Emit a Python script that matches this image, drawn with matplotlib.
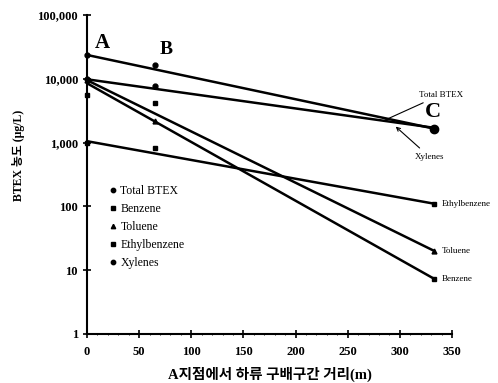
import matplotlib
matplotlib.use('Agg')
import matplotlib.pyplot as plt
from matplotlib.ticker import FixedLocator, FuncFormatter, MultipleLocator

plt.rcParams['font.family'] = ['Liberation Serif', 'Noto Sans CJK KR']

# 측정 지점 (A, B, C) 거리 (m)
x_pts = [0, 65, 333]
total_pts = [23600, 16500, 1650]
benzene_pts = [5600, 4200, 7.3]
toluene_pts = [9500, 2200, 20]
ethyl_pts = [1000, 830, 110]
xylene_pts = [9800, 7700, 1700]

# 회귀선 양 끝 값 (A, C)
x_line = [0, 333]
total_line = [23600, 1650]
benzene_line = [8500, 7.3]
toluene_line = [9500, 20]
ethyl_line = [1050, 110]
xylene_line = [9800, 1700]

y_ticks = [1, 10, 100, 1000, 10000, 100000]
x_ticks = [0, 50, 100, 150, 200, 250, 300, 350]

fig = plt.figure(figsize=(4.98, 3.83), dpi=100)
ax = fig.add_axes([0.1747, 0.128, 0.733, 0.833])

for yl in [total_line, benzene_line, toluene_line, ethyl_line, xylene_line]:
    ax.plot(x_line, yl, color='black', lw=1.8, solid_capstyle='round', clip_on=False)

ax.plot(x_pts, total_pts, 'o', color='black', ms=3.5, ls='none', label='Total BTEX', clip_on=False)
ax.plot(x_pts, benzene_pts, 's', color='black', ms=3.5, ls='none', label='Benzene', clip_on=False)
ax.plot(x_pts, toluene_pts, '^', color='black', ms=3.5, ls='none', label='Toluene', clip_on=False)
ax.plot(x_pts, ethyl_pts, 's', color='black', ms=3.5, ls='none', label='Ethylbenzene', clip_on=False)
ax.plot(x_pts, xylene_pts, 'o', color='black', ms=3.5, ls='none', label='Xylenes', clip_on=False)
ax.plot([x_pts[-1]], [total_pts[-1]], 'o', color='black', ms=6, clip_on=False)

ax.set_yscale('log')
ax.set_ylim(1, 100000)
ax.set_xlim(0, 350)
ax.yaxis.set_major_locator(FixedLocator(y_ticks))
ax.yaxis.set_minor_locator(FixedLocator([]))
ax.yaxis.set_major_formatter(FuncFormatter(lambda v, p: f'{int(round(v)):,}'))
ax.xaxis.set_major_locator(FixedLocator(x_ticks))
ax.xaxis.set_minor_locator(MultipleLocator(10))

for s in ['top', 'right']:
    ax.spines[s].set_visible(False)
ax.spines['left'].set_linewidth(1.5)
ax.spines['bottom'].set_linewidth(1.5)
ax.tick_params(which='major', direction='inout', length=6, width=1.2, labelsize=9)
ax.tick_params(axis='x', which='major', pad=6)
ax.tick_params(which='minor', direction='inout', length=2, width=0.6)
for t in ax.get_xticklabels() + ax.get_yticklabels():
    t.set_fontweight('bold')

ax.set_xlabel('A지점에서 하류 구배구간 거리(m)', fontsize=10.5, fontweight='bold', labelpad=6)
ax.set_ylabel('BTEX 농도 (μg/L)', fontsize=8.5, fontweight='bold', labelpad=6)
ax.yaxis.set_label_coords(-0.17, 0.56)

ax.legend(loc='upper left', bbox_to_anchor=(0.03, 0.5), frameon=False, fontsize=8.5,
          handletextpad=0.2, labelspacing=0.5, handlelength=0.8, markerscale=0.9)

ax.text(7, 30000, 'A', fontsize=15, fontweight='bold')
ax.text(70, 24000, 'B', fontsize=14, fontweight='bold')
ax.text(324, 2500, 'C', fontsize=16, fontweight='bold')

ax.annotate('Total BTEX', xy=(283, 2150), xytext=(318, 5200), fontsize=6.5,
            arrowprops=dict(arrowstyle='-', color='black', lw=0.8))
ax.annotate('Xylenes', xy=(294, 1900), xytext=(314, 560), fontsize=6.5,
            arrowprops=dict(arrowstyle='->', color='black', lw=0.8))
ax.text(340, 110, 'Ethylbenzene', fontsize=6.5, va='center', clip_on=False)
ax.text(340, 20, 'Toluene', fontsize=6.5, va='center')
ax.text(340, 7.3, 'Benzene', fontsize=6.5, va='center')

fig.savefig('out.png', dpi=100)
